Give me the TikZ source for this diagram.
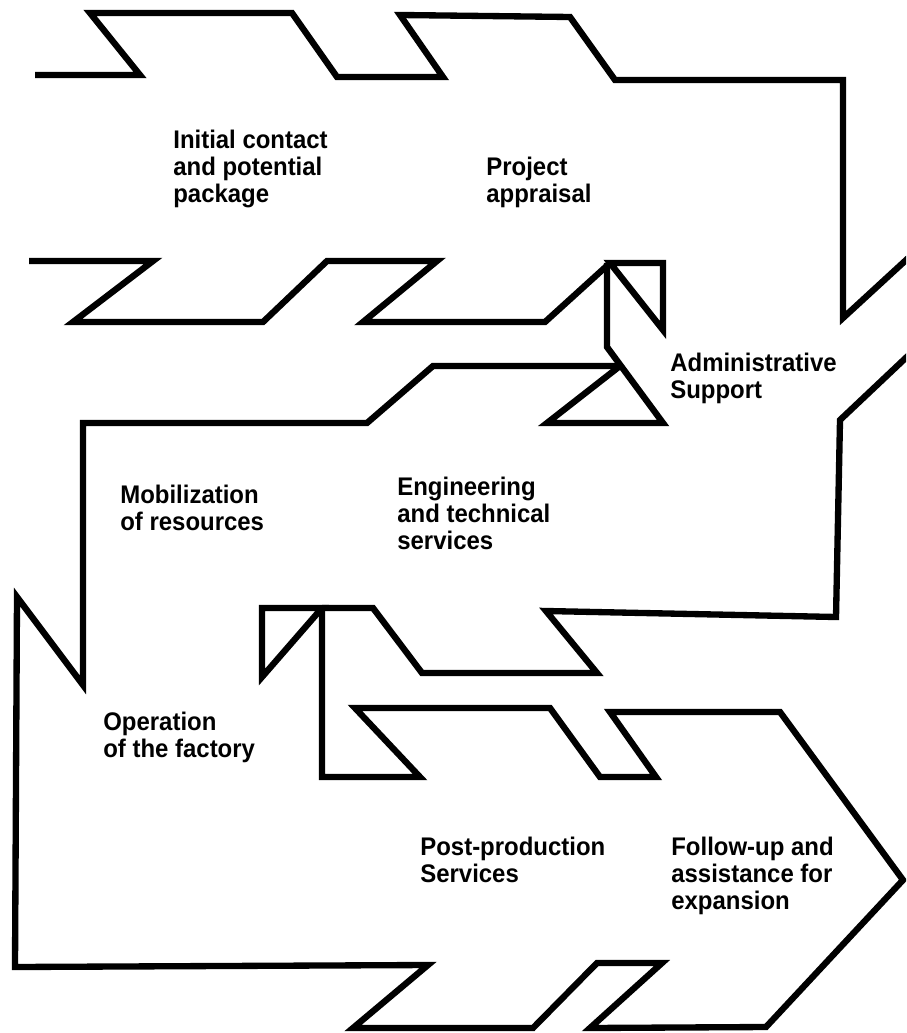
\documentclass[tikz,border=0pt]{standalone}
\usepackage{fontspec}
\setmainfont{Liberation Sans}[FakeStretch=0.94]

\begin{document}
\begin{tikzpicture}[x=0.02cm,y=-0.02cm]
\tikzset{bandline/.style={line width=3.6pt,line join=miter},
phasetext/.style={anchor=north west,inner sep=0pt,align=left,font=\fontsize{14.5}{15.4}\selectfont\bfseries}}
\clip (0,0) rectangle (906,1033);
\coordinate (ajoin) at (610,263);
\coordinate (bjoin) at (620,366);
\coordinate (cjoin) at (322,608);
\node (initial) at (173,130) [phasetext] {Initial contact\\and potential\\package};
\node (appraisal) at (486,157) [phasetext] {Project\\appraisal};
\node (admin) at (670,353) [phasetext] {Administrative\\Support};
\node (engineering) at (397,477) [phasetext] {Engineering\\and technical\\services};
\node (mobilization) at (120,485) [phasetext] {Mobilization\\of resources};
\node (operation) at (103,712) [phasetext] {Operation\\of the factory};
\node (postprod) at (420,837) [phasetext] {Post-production\\Services};
\node (followup) at (671,837) [phasetext] {Follow-up and\\assistance for\\expansion};
\draw[bandline]
(35,75) -- (140,75) -- (90,13) -- (292,13) -- (337,77) -- (443,77) -- (400,15) -- (570,17)
-- (615,80) -- (843,80) -- (843,318) -- (930,238);
\draw[bandline]
(29,261) -- (153,261) -- (73,322) -- (263,322) -- (327,261) -- (437,261) -- (363,322)
-- (545,322) -- (ajoin);
\draw[bandline] (ajoin) -- (663,263) -- (663,330) -- cycle;
\draw[bandline] (607,263) -- (607,347) -- (663,423) -- (547,423) -- (bjoin);
\draw[bandline]
(bjoin) -- (433,366) -- (367,423) -- (83,423) -- (83,685) -- (17,597) -- (15,967)
-- (428,965) -- (353,1028) -- (533,1028) -- (597,963) -- (662,963) -- (590,1028)
-- (766,1027) -- (903,880) -- (780,712) -- (610,712) -- (656,777) -- (600,777)
-- (550,708) -- (355,708) -- (420,777) -- (cjoin |- 0,777) -- (cjoin);
\draw[bandline] (262,608) -- (cjoin) -- (262,677) -- cycle;
\draw[bandline]
(cjoin) -- (373,608) -- (422,673) -- (597,673) -- (546,611) -- (836,617) -- (840,420)
-- (930,335);
\end{tikzpicture}
\end{document}
